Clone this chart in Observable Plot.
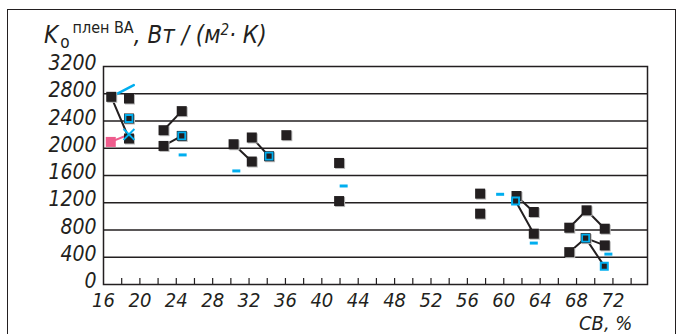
<!DOCTYPE html>
<html>
<head>
<meta charset="utf-8">
<script src="https://cdn.jsdelivr.net/npm/d3@7"></script>
<script src="https://cdn.jsdelivr.net/npm/@observablehq/plot@0.6"></script>
<style>
  html, body { margin: 0; padding: 0; background: #fff; }
  #wrap { position: relative; width: 682px; height: 334px; overflow: hidden; }
  #border { position: absolute; left: 7px; top: 9px; width: 669px; height: 340px; border: 1.5px solid #231f20; box-sizing: border-box; }
  #title { position: absolute; left: 44px; top: 21px; font-family: "Liberation Sans Narrow", "DejaVu Sans Condensed", sans-serif; font-style: italic; font-size: 24px; line-height: 28px; color: #231f20; white-space: nowrap; }
  #title .sub { font-style: normal; font-size: 17px; position: relative; top: 5px; margin-left: 2px; }
  #title .sup { font-style: normal; font-size: 16px; position: relative; top: -10px; margin-left: 3px; }
  #title .sup2 { font-size: 15px; position: relative; top: -8px; }
  #xlabel { position: absolute; left: 579px; top: 313px; font-family: "Liberation Sans Narrow", "DejaVu Sans Condensed", sans-serif; font-style: italic; font-size: 20px; line-height: 20px; color: #231f20; }
  #chart { position: absolute; left: 0; top: 0; }
</style>
</head>
<body>
<div id="wrap">
  <div id="border"></div>
  <div id="chart"></div>
  <div id="title">K<span class="sub">о</span><span class="sup">плен ВА</span>, Вт / (м<span class="sup2">2</span>· К)</div>
  <div id="xlabel">СВ, %</div>
</div>
<script>
// Tick values
const yTicks = [0, 400, 800, 1200, 1600, 2000, 2400, 2800, 3200];
const yGrid = [400, 800, 1200, 1600, 2000, 2400, 2800];
const xLabelTicks = [16, 20, 24, 28, 32, 36, 40, 44, 48, 52, 56, 60, 64, 68, 72];
const xMinorTicks = [18, 20, 22, 24, 26, 28, 30, 32, 34, 36, 38, 40, 42, 44, 46, 48, 50, 52, 54, 56, 58, 60, 62, 64, 66, 68, 70, 72, 74];

// Black filled squares (СВ %, K)
const blackCV = [16.85, 18.8, 18.8, 22.6, 24.6, 22.6, 30.3, 32.3, 32.3, 36.1, 41.9, 41.9, 57.4, 57.4, 61.4, 63.3, 63.3, 67.2, 69.1, 71.1, 67.2, 71.1];
const blackK  = [2755, 2730, 2143, 2265, 2545, 2034, 2059, 2158, 1805, 2192, 1784, 1225, 1334, 1040, 1299, 1064, 746, 834, 1089, 819, 475, 574];

// Blue-outlined squares (large)
const blueBoxCV = [18.8, 24.6, 34.2, 69.0];
const blueBoxK  = [2437, 2181, 1883, 681];
// Blue-outlined squares (small)
const blueSmallCV = [61.3, 71.05];
const blueSmallK  = [1225, 269];

// Blue dashes
const dashCV = [24.7, 30.6, 42.4, 59.6, 63.3, 71.5];
const dashK  = [1902, 1667, 1446, 1324, 608, 446];

// Pink square and blue cross
const pinkCV = [16.8];
const pinkK  = [2093];
const crossCV = [18.8];
const crossK  = [2202];

// Connecting lines: series id, CV, K
const lineSeries = ["a","a","b","b","c","c","d","d","e","e","f","f","g","g","h","h","h","i","i","i","j","j"];
const lineCV = [16.85, 18.8, 22.6, 24.6, 22.6, 24.6, 30.3, 32.3, 32.3, 34.2, 61.4, 63.3, 61.3, 63.3, 67.2, 69.1, 71.1, 67.2, 69.0, 71.1, 69.0, 71.05];
const lineK  = [2755, 2143, 2265, 2545, 2034, 2181, 2059, 1805, 2158, 1883, 1299, 1064, 1225, 746, 834, 1089, 819, 475, 681, 574, 681, 269];

const blueLineCV = [16.85, 19.33];
const blueLineK  = [2755, 2927];
const pinkLineCV = [16.8, 18.8];
const pinkLineK  = [2093, 2202];

const zip = (xs, ys, extra) => xs.map((x, i) => ({x, y: ys[i], s: extra ? extra[i] : 0}));
const black = zip(blackCV, blackK);
const blueBox = zip(blueBoxCV, blueBoxK);
const blueSmall = zip(blueSmallCV, blueSmallK);
const dashes = zip(dashCV, dashK);
const pink = zip(pinkCV, pinkK);
const cross = zip(crossCV, crossK);
const lines = zip(lineCV, lineK, lineSeries);
const blueLine = zip(blueLineCV, blueLineK);
const pinkLine = zip(pinkLineCV, pinkLineK);

const INK = "#231f20";
const BLUE = "#00aeef";
const PINK = "#ee5b8c";
const FONT = '"Liberation Sans Narrow", "DejaVu Sans Condensed", sans-serif';

const dashSymbol = { draw(ctx) { ctx.rect(-4, -1.5, 8, 3); } };
const sq = (s) => ({ draw(ctx) { ctx.rect(-s/2, -s/2, s, s); } });

const chart = Plot.plot({
  width: 682,
  height: 334,
  marginLeft: 103,
  marginRight: 35,
  marginTop: 66,
  marginBottom: 50,
  style: { fontFamily: FONT, fontStyle: "italic", fontSize: "20px", color: INK, background: "transparent" },
  x: { domain: [16, 75.8] },
  y: { domain: [0, 3200] },
  marks: [
    Plot.ruleY(yGrid, { stroke: INK, strokeWidth: 1.5 }),
    Plot.frame({ stroke: INK, strokeWidth: 1.5 }),
    Plot.axisY({ ticks: yTicks, tickFormat: d => String(d), tickSize: 0, tickPadding: 7, label: null, fill: INK, fontSize: 21, dy: -3 }),
    Plot.axisX({ ticks: xMinorTicks, tickSize: -6, stroke: INK, strokeWidth: 1.2, text: null, label: null }),
    Plot.axisX({ ticks: xLabelTicks, tickFormat: d => String(d), tickSize: 0, tickPadding: 8, label: null, fill: INK, fontSize: 20 }),
    Plot.line(lines, { x: "x", y: "y", z: "s", stroke: INK, strokeWidth: 2 }),
    Plot.line(blueLine, { x: "x", y: "y", stroke: BLUE, strokeWidth: 2.5 }),
    Plot.line(pinkLine, { x: "x", y: "y", stroke: PINK, strokeWidth: 2 }),
    // shadows
    Plot.dot(black, { x: "x", y: "y", symbol: sq(10), fill: "#b8b8b8", dx: 1, dy: 1 }),
    Plot.dot(black, { x: "x", y: "y", symbol: sq(10), fill: INK }),
    Plot.dot(blueBox, { x: "x", y: "y", symbol: sq(10), fill: "#b8b8b8", dx: 1, dy: 1 }),
    Plot.dot(blueBox, { x: "x", y: "y", symbol: sq(10), fill: INK }),
    Plot.dot(blueBox, { x: "x", y: "y", symbol: sq(7), fill: INK, stroke: BLUE, strokeWidth: 1.8 }),
    Plot.dot(blueSmall, { x: "x", y: "y", symbol: sq(7), fill: INK, stroke: BLUE, strokeWidth: 2 }),
    Plot.dot(dashes, { x: "x", y: "y", symbol: dashSymbol, fill: BLUE }),
    Plot.dot(pink, { x: "x", y: "y", symbol: sq(10), fill: PINK }),
    Plot.dot(cross, { x: "x", y: "y", symbol: "times", r: 5, stroke: BLUE, strokeWidth: 2 })
  ]
});
document.getElementById("chart").appendChild(chart);
</script>
</body>
</html>
